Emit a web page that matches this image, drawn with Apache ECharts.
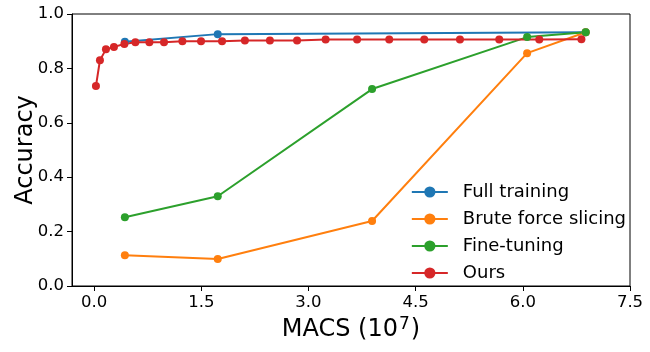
<!DOCTYPE html>
<html>
<head>
<meta charset="utf-8">
<script src="https://cdn.jsdelivr.net/npm/echarts@6/dist/echarts.min.js"></script>
<style>html,body{margin:0;padding:0;background:#fff;}#c{width:650px;height:352px;}</style>
</head>
<body>
<div id="c"></div>
<script>
const xTicks = [0, 1.5, 3.0, 4.5, 6.0, 7.5];
const yTicks = [0, 0.2, 0.4, 0.6, 0.8, 1.0];
const seriesNames = ['Full training', 'Brute force slicing', 'Fine-tuning', 'Ours'];
const fullX = [0.43, 1.73, 6.88];
const fullY = [0.898, 0.926, 0.933];
const bruteX = [0.43, 1.73, 3.89, 6.06, 6.88];
const bruteY = [0.113, 0.099, 0.239, 0.856, 0.933];
const fineX = [0.43, 1.73, 3.89, 6.06, 6.88];
const fineY = [0.253, 0.330, 0.724, 0.915, 0.933];
const oursX = [0.025, 0.081, 0.165, 0.277, 0.423, 0.577, 0.773, 0.978, 1.235, 1.496, 1.79, 2.11, 2.46, 2.84, 3.24, 3.68, 4.13, 4.62, 5.12, 5.67, 6.23, 6.82];
const oursY = [0.735, 0.830, 0.870, 0.879, 0.890, 0.896, 0.896, 0.896, 0.900, 0.900, 0.900, 0.903, 0.903, 0.903, 0.906, 0.906, 0.906, 0.906, 0.906, 0.906, 0.906, 0.907];
const colors = ['#1f77b4', '#ff7f0e', '#2ca02c', '#d62728'];

function zip(xs, ys) { return xs.map((x, i) => [x, ys[i]]); }
const datasets = [zip(fullX, fullY), zip(bruteX, bruteY), zip(fineX, fineY), zip(oursX, oursY)];

const FONT = 'DejaVu Sans';
const chart = echarts.init(document.getElementById('c'), null, {renderer: 'canvas'});
chart.setOption({
  animation: false,
  color: colors,
  grid: {left: 72, right: 20, top: 14, bottom: 66, show: true, borderColor: '#000', borderWidth: 1, backgroundColor: 'transparent', containLabel: false, outerBoundsMode: 'none'},
  xAxis: {
    type: 'value', min: -0.31, max: 7.5,
    name: '{b|MACS (10}{s|7}{b|)}', nameLocation: 'middle', nameGap: 30, nameMoveOverlap: false,
    nameTextStyle: {fontFamily: FONT, fontSize: 24, color: '#000',
      rich: {
        b: {fontFamily: FONT, fontSize: 24, color: '#000', verticalAlign: 'bottom'},
        s: {fontFamily: FONT, fontSize: 17, color: '#000', verticalAlign: 'bottom', padding: [0, 1, 9, 1]}
      }},
    axisLine: {show: true, onZero: false, lineStyle: {color: '#000', width: 1}},
    axisTick: {show: true, length: 5, lineStyle: {color: '#000'}, customValues: xTicks},
    axisLabel: {fontFamily: FONT, fontSize: 16.5, color: '#000', margin: 8, customValues: xTicks, formatter: v => v.toFixed(1)},
    splitLine: {show: false}
  },
  yAxis: {
    type: 'value', min: 0, max: 1.0, interval: 0.2,
    name: 'Accuracy', nameLocation: 'middle', nameGap: 34, nameRotate: 90, nameMoveOverlap: false,
    nameTextStyle: {fontFamily: FONT, fontSize: 24, color: '#000'},
    axisLine: {show: true, onZero: false, lineStyle: {color: '#000', width: 1}},
    axisTick: {show: true, length: 5, lineStyle: {color: '#000'}},
    axisLabel: {fontFamily: FONT, fontSize: 16.5, color: '#000', margin: 8, formatter: v => v.toFixed(1)},
    splitLine: {show: false}
  },
  legend: {
    orient: 'vertical', right: 24, top: 183, padding: 0, itemGap: 9,
    itemWidth: 36, itemHeight: 14, align: 'left',
    textStyle: {fontFamily: FONT, fontSize: 18, color: '#000', padding: [0, 0, 0, 10]},
    data: seriesNames
  },
  series: datasets.map((d, i) => ({
    name: seriesNames[i], type: 'line', data: d,
    symbol: 'circle', symbolSize: 8, showSymbol: true,
    lineStyle: {width: 2, color: colors[i]},
    itemStyle: {color: colors[i]},
    emphasis: {disabled: true}
  }))
});
</script>
</body>
</html>
